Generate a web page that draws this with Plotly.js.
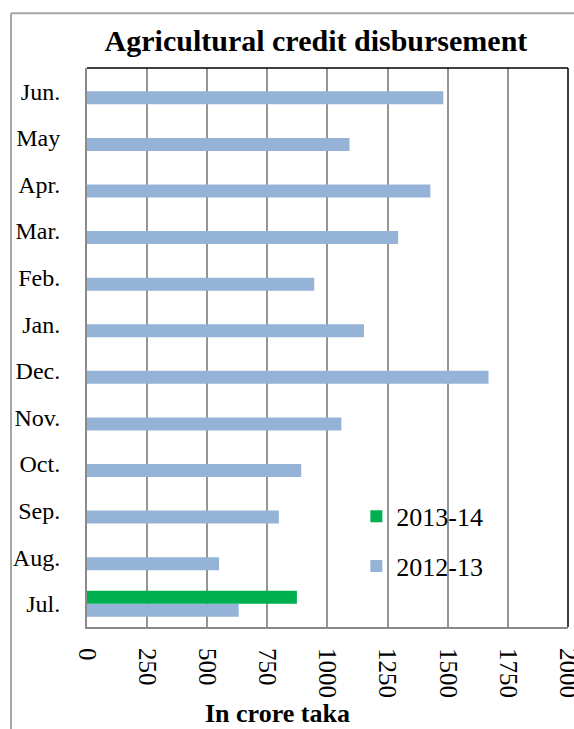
<!DOCTYPE html>
<html>
<head>
<meta charset="utf-8">
<script src="https://cdn.plot.ly/plotly-3.0.1.min.js"></script>
<style>html,body{margin:0;padding:0;background:#fff;}#chart{width:574px;height:729px;}</style>
</head>
<body>
<div id="chart"></div>
<script>
const months = ['Jul.','Aug.','Sep.','Oct.','Nov.','Dec.','Jan.','Feb.','Mar.','Apr.','May','Jun.'];
const values2012 = [631, 549, 798, 891, 1058, 1670, 1152, 945, 1294, 1428, 1092, 1482];
const months2013 = ['Jul.'];
const values2013 = [873];
const xTicks = [0, 250, 500, 750, 1000, 1250, 1500, 1750, 2000];

const FONT = 'Liberation Serif';

const traces = [
  {type:'bar', orientation:'h', name:'2012-13', y: months, x: values2012,
   marker:{color:'#95B3D7', line:{width:0}}, legendgroup:'a', legendrank:2, hoverinfo:'x+y'},
  {type:'bar', orientation:'h', name:'2013-14', y: months2013, x: values2013,
   marker:{color:'#00B050', line:{width:0}}, legendgroup:'b', legendrank:1, hoverinfo:'x+y'}
];

const layout = {
  width:574, height:729,
  margin:{l:87, r:6, t:68, b:102, pad:0},
  paper_bgcolor:'#fff', plot_bgcolor:'#fff',
  font:{family:FONT, color:'#000', size:25},
  barmode:'group', bargap:0.44, bargroupgap:0,
  showlegend:true,
  title:{text:'<b>Agricultural credit disbursement</b>', font:{family:FONT, size:30, color:'#000'},
         x:0.476, xref:'paper', xanchor:'center', y:0.945, yref:'container', yanchor:'middle'},
  xaxis:{range:[0,2000.5], tickvals:xTicks, ticktext:xTicks.map(String), tickangle:90,
         showgrid:true, gridcolor:'#959595', gridwidth:2, zeroline:false,
         showline:true, linecolor:'#8a8a8a', linewidth:2, ticks:'', ticklabelstandoff:14,
         ticklabeloverflow:'allow',
         tickfont:{family:FONT, size:25, color:'#000'}, fixedrange:true},
  yaxis:{type:'category', categoryorder:'array', categoryarray:months,
         showgrid:false, zeroline:false, showline:true, linecolor:'#8a8a8a', linewidth:2,
         ticks:'', ticklabelstandoff:20, tickfont:{family:FONT, size:24, color:'#000'}, fixedrange:true},
  legend:{x:0.56, xanchor:'left', y:0.24, yanchor:'top', bgcolor:'rgba(0,0,0,0)',
          traceorder:'grouped', tracegroupgap:13, font:{family:FONT, size:26, color:'#000'}},
  shapes:[
    {type:'line', xref:'paper', yref:'paper', x0:0, x1:1, y0:1, y1:1, line:{color:'#000', width:1.5}},
    {type:'line', xref:'paper', yref:'paper', x0:1, x1:1, y0:0, y1:1, line:{color:'#000', width:1.5}},
    {type:'line', xref:'paper', yref:'paper', x0:-0.158, x1:1.05, y0:1.098, y1:1.098, line:{color:'#a6a6a6', width:2}},
    {type:'line', xref:'paper', yref:'paper', x0:-0.158, x1:-0.158, y0:-0.2, y1:1.098, line:{color:'#a6a6a6', width:2}}
  ],
  annotations:[
    {text:'<b>In crore taka</b>', xref:'paper', yref:'paper', x:0.397, y:-0.155,
     xanchor:'center', yanchor:'middle', showarrow:false, font:{family:FONT, size:26, color:'#000'}}
  ]
};

Plotly.newPlot('chart', traces, layout, {displayModeBar:false, staticPlot:true});
</script>
</body>
</html>
